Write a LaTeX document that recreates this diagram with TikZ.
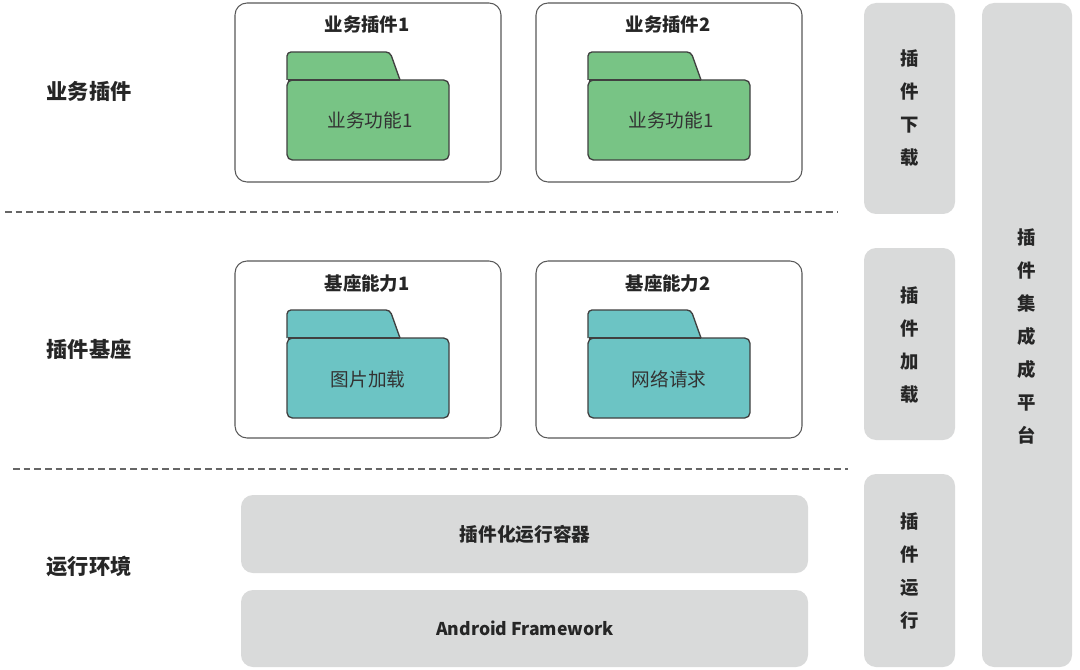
\documentclass[tikz,border=0pt]{standalone}
\usepackage{fontspec}
\setmainfont{Noto Sans CJK SC}
\begin{document}
\begin{tikzpicture}[x=0.75pt,y=-0.75pt,
  outerbox/.style={draw=black!65,line width=0.8pt,rounded corners=9pt,fill=white},
  graybox/.style={fill=boxgray,draw=none,rounded corners=9pt},
  folderline/.style={draw=black!75,line width=1pt},
  titletext/.style={font=\fontsize{13.8}{16}\selectfont\bfseries,text=black!85},
  foldertext/.style={font=\fontsize{14}{16}\selectfont,text=black!80},
  sidetext/.style={font=\fontsize{15.9}{18}\selectfont\bfseries,text=black!85},
  vtext/.style={font=\fontsize{13.8}{24.75}\selectfont\bfseries,text=black!85,align=center},
  bartext/.style={font=\fontsize{14}{16}\selectfont\bfseries,text=black!85},
  bartextl/.style={font=\fontsize{13.2}{16}\selectfont\bfseries,text=black!85},
  sepline/.style={draw=black!60,line width=2pt,dash pattern=on 5pt off 3pt}]
\definecolor{boxgray}{HTML}{D9DADA}
\definecolor{fgreen}{HTML}{78C485}
\definecolor{fteal}{HTML}{6CC4C4}
\useasboundingbox (0,0) rectangle (1080,670);
\fill[white] (0,0) rectangle (1080,670);

% folder pic
\tikzset{folder/.pic={
  \path[folderline,fill=\foldercol,rounded corners=3pt] (0,28) -- (0,0) -- (103,0) -- (113,28);
  \path[folderline,fill=\foldercol,rounded corners=4pt] (0,28) rectangle (162,108);
  \path[folderline,fill=\foldercol] (0.5,28) -- (113,28);
}}

% side labels
\node[sidetext] (lb1) at (89,91) {业务插件};
\node[sidetext] (lb2) at (89,349) {插件基座};
\node[sidetext] (lb3) at (89,567) {运行环境};

% separators
\coordinate (s1a) at (5,212); \coordinate (s1b) at (838,212);
\coordinate (s2a) at (13,469); \coordinate (s2b) at (848,469);
\draw[sepline] (s1a) -- (s1b);
\draw[sepline] (s2a) -- (s2b);

% row 1
\path[outerbox] (235,3) rectangle (501,182);
\node[titletext] (t1) at (367,25) {业务插件1};
\def\foldercol{fgreen}
\pic at (287,52) {folder};
\node[foldertext] (f1) at (370,120) {业务功能1};

\path[outerbox] (536,3) rectangle (802,182);
\node[titletext] (t2) at (668,25) {业务插件2};
\pic at (588,52) {folder};
\node[foldertext] (f2) at (671,120) {业务功能1};

% row 2
\path[outerbox] (235,261) rectangle (501,438);
\node[titletext] (t3) at (367,283) {基座能力1};
\def\foldercol{fteal}
\pic at (287,310) {folder};
\node[foldertext] (f3) at (368,379) {图片加载};

\path[outerbox] (536,261) rectangle (802,438);
\node[titletext] (t4) at (668,283) {基座能力2};
\pic at (588,310) {folder};
\node[foldertext] (f4) at (669,379) {网络请求};

% row 3
\path[graybox] (241,495) rectangle (808,573);
\node[bartext] (b1) at (525,534) {插件化运行容器};
\path[graybox] (241,590) rectangle (808,667);
\node[bartextl] (b2) at (525,628) {Android Framework};

% right column
\path[graybox] (864,3) rectangle (955,214);
\node[vtext] (v1) at (909.5,108.5) {插\\件\\下\\载};
\path[graybox] (864,248) rectangle (955,440);
\node[vtext] (v2) at (909.5,345) {插\\件\\加\\载};
\path[graybox] (864,474) rectangle (955,667);
\node[vtext] (v3) at (909.5,570.5) {插\\件\\运\\行};
\path[graybox] (982,3) rectangle (1072,667);
\node[vtext] (v4) at (1027,336) {插\\件\\集\\成\\成\\平\\台};
\end{tikzpicture}
\end{document}
